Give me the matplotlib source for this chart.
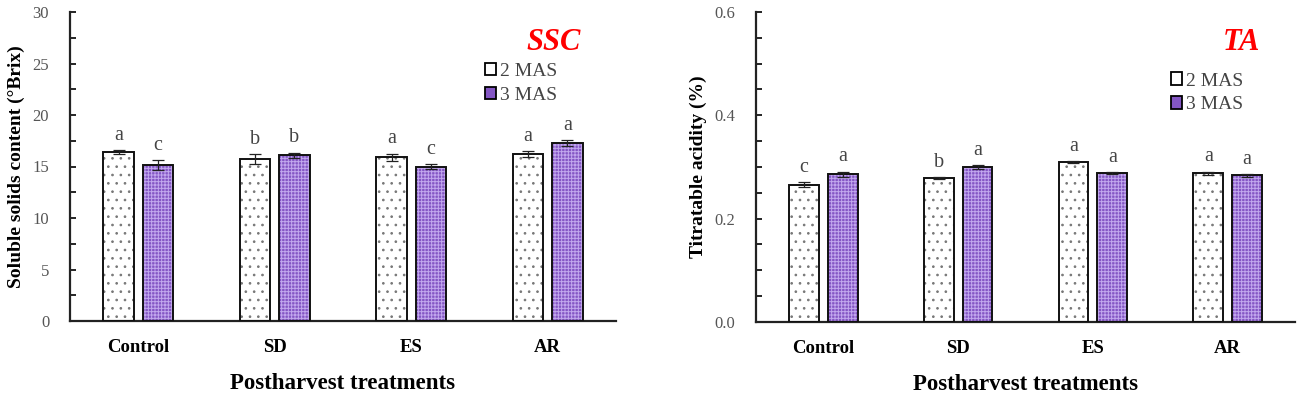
import matplotlib.pyplot as plt
import numpy as np
from matplotlib.patches import Patch
from matplotlib.ticker import MultipleLocator

plt.rcParams['font.family'] = ['Liberation Serif', 'DejaVu Serif']
plt.rcParams['hatch.linewidth'] = 0.7

treatments = ['Control', 'SD', 'ES', 'AR']
series = ['2 MAS', '3 MAS']

ssc_2mas = [16.4, 15.7, 15.9, 16.2]
ssc_3mas = [15.15, 16.1, 15.0, 17.25]
ssc_err_2mas = [0.2, 0.5, 0.35, 0.3]
ssc_err_3mas = [0.45, 0.25, 0.25, 0.3]
ssc_letters_2mas = ['a', 'b', 'a', 'a']
ssc_letters_3mas = ['c', 'b', 'c', 'a']

ta_2mas = [0.266, 0.278, 0.310, 0.288]
ta_3mas = [0.286, 0.300, 0.288, 0.284]
ta_err_2mas = [0.004, 0.002, 0.002, 0.003]
ta_err_3mas = [0.005, 0.003, 0.002, 0.003]
ta_letters_2mas = ['c', 'b', 'a', 'a']
ta_letters_3mas = ['a', 'a', 'a', 'a']

purple = '#8456c4'
hatch_purple = '#c2a8ee'
dot_color = '#777777'


def panel(ax, v2, v3, e2, e3, l2, l3, ymax, major, minor, ylabel, tag, fmt, off, leg_pos):
    x = np.arange(len(treatments))
    w = 0.222
    d = 0.144
    # fill + hatch layer
    ax.bar(x - d, v2, w, color='white', edgecolor=dot_color, hatch='..', linewidth=0, zorder=2)
    ax.bar(x + d, v3, w, color=purple, edgecolor=hatch_purple, hatch='+++++', linewidth=0, zorder=2)
    # outline layer
    ax.bar(x - d, v2, w, fill=False, edgecolor='#111111', linewidth=1.4, zorder=3)
    ax.bar(x + d, v3, w, fill=False, edgecolor='#111111', linewidth=1.4, zorder=3)
    ax.errorbar(x - d, v2, yerr=e2, fmt='none', ecolor='#222222', elinewidth=0.9, capsize=4, capthick=0.9, zorder=4)
    ax.errorbar(x + d, v3, yerr=e3, fmt='none', ecolor='#222222', elinewidth=0.9, capsize=4, capthick=0.9, zorder=4)
    for i in range(len(treatments)):
        ax.text(x[i] - d, v2[i] + e2[i] + off, l2[i], ha='center', va='bottom', fontsize=14.5, color='#444444')
        ax.text(x[i] + d, v3[i] + e3[i] + off, l3[i], ha='center', va='bottom', fontsize=14.5, color='#444444')

    ax.set_xlim(-0.5, 3.5)
    ax.set_ylim(0, ymax)
    ax.yaxis.set_major_locator(MultipleLocator(major))
    ax.yaxis.set_minor_locator(MultipleLocator(minor))
    ax.yaxis.set_major_formatter(fmt)
    ax.tick_params(axis='y', which='both', direction='in', length=4, width=1.2, labelsize=12,
                   labelcolor='#555555', pad=15)
    ax.tick_params(axis='x', length=0, labelsize=13.5, pad=13)
    ax.set_xticks(x)
    ax.set_xticklabels(treatments, fontweight='bold')
    for s in ['top', 'right']:
        ax.spines[s].set_visible(False)
    for s in ['left', 'bottom']:
        ax.spines[s].set_linewidth(1.6)
        ax.spines[s].set_color('#222222')
    ax.set_ylabel(ylabel, fontsize=14, fontweight='bold', labelpad=5)
    ax.set_xlabel('Postharvest treatments', fontsize=16.5, fontweight='bold', labelpad=12)
    ax.text(0.935, 0.90, tag, transform=ax.transAxes, ha='right', va='center',
            fontsize=22, fontweight='bold', fontstyle='italic', color='red')
    handles = [Patch(facecolor='white', edgecolor='black', linewidth=1.3),
               Patch(facecolor=purple, edgecolor='black', linewidth=1.3)]
    ax.legend(handles, series, loc='upper left', bbox_to_anchor=leg_pos, frameon=False,
              fontsize=14, handlelength=0.6, handleheight=0.6, handletextpad=0.2,
              labelspacing=0.35, labelcolor='#444444', borderaxespad=0)


fig = plt.figure(figsize=(13.01, 4.01), dpi=100)
ax1 = fig.add_axes([70 / 1301, 80 / 401, 546 / 1301, 309 / 401])
ax2 = fig.add_axes([756 / 1301, 79 / 401, 539 / 1301, 310 / 401])

panel(ax1, ssc_2mas, ssc_3mas, ssc_err_2mas, ssc_err_3mas, ssc_letters_2mas, ssc_letters_3mas,
      30, 5, 2.5, 'Soluble solids content (\u00b0Brix)', 'SSC', '{x:.0f}', 0.5, (0.745, 0.86))
panel(ax2, ta_2mas, ta_3mas, ta_err_2mas, ta_err_3mas, ta_letters_2mas, ta_letters_3mas,
      0.6, 0.2, 0.05, 'Titratable acidity (%)', 'TA', '{x:.1f}', 0.01, (0.755, 0.83))

fig.savefig('out.png', dpi=100)
